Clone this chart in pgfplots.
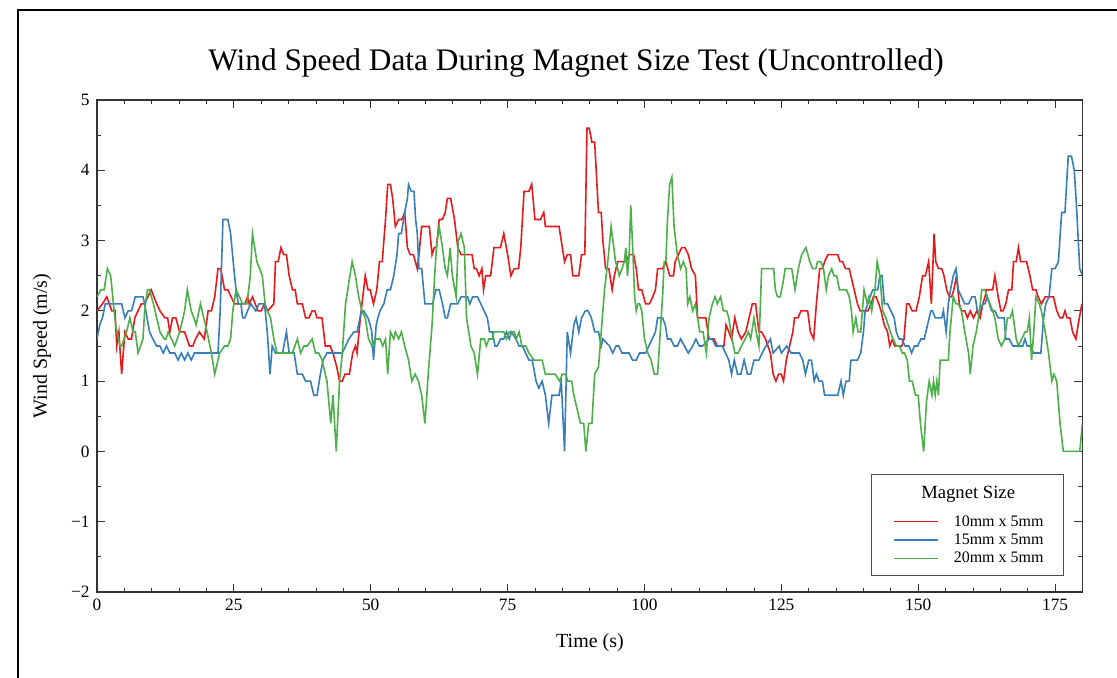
\documentclass[border=0pt]{standalone}
\usepackage{fontspec}
\setmainfont{Liberation Serif}
\usepackage{pgfplots}
\usepackage{pgfplotstable}
\pgfplotsset{compat=1.18}
\definecolor{cred}{HTML}{E41A1C}
\definecolor{cblue}{HTML}{377EB8}
\definecolor{cgreen}{HTML}{4DAF4A}
\definecolor{cframe}{HTML}{333333}

\pgfplotstableread{
t v
0 2.0
1.0 2.1
1.8 2.2
2.7 2.0
3.3 2.0
3.6 1.5
4.0 1.7
4.5 1.1
5.1 1.7
5.7 1.6
6.3 1.6
6.9 1.9
7.5 2.0
8.1 2.1
8.7 2.1
9.3 2.2
9.9 2.3
10.9 2.1
11.5 2.0
12.4 1.9
12.9 1.9
13.3 1.7
13.8 1.9
14.4 1.9
15.1 1.7
16.0 1.7
16.9 1.5
17.5 1.5
18.0 1.6
18.7 1.7
19.6 1.6
20.3 2.0
20.9 2.0
21.5 2.2
22.1 2.6
22.6 2.6
23.3 2.3
23.9 2.3
24.5 2.2
25.1 2.1
26.3 2.1
27.0 2.1
27.5 2.2
27.8 2.1
28.4 2.2
29.4 2.0
30.0 2.0
30.6 2.1
31.2 2.0
32.3 2.1
32.6 2.7
33.1 2.7
33.6 2.9
34.1 2.8
34.6 2.8
35.1 2.5
35.7 2.3
36.2 2.3
36.6 2.1
37.5 2.1
38.1 1.9
38.7 1.9
39.3 2.0
39.8 2.0
40.2 1.9
41.1 1.9
41.7 1.5
42.6 1.5
43.1 1.4
43.8 1.2
44.3 1.0
44.8 1.0
45.3 1.1
46.1 1.1
46.7 1.4
47.2 1.5
47.5 1.4
48.1 1.9
48.7 2.3
49.0 2.5
49.5 2.3
49.9 2.3
50.5 2.1
51.1 2.3
51.6 2.7
52.1 2.7
52.7 3.3
53.1 3.8
53.6 3.8
54.0 3.6
54.5 3.2
55.1 3.3
55.7 3.3
56.2 3.4
56.7 2.9
57.2 2.8
57.8 2.8
58.5 2.6
58.8 2.8
59.3 3.2
60.2 3.2
60.7 3.2
61.2 2.8
61.6 2.9
62.0 2.9
62.5 3.3
63.1 3.3
63.6 3.4
64.0 3.6
64.6 3.6
65.3 3.3
65.9 2.9
66.5 2.8
67.4 2.8
68.5 2.8
68.9 2.6
69.3 2.6
69.8 2.5
70.3 2.6
70.6 2.3
71.0 2.5
71.9 2.5
72.5 2.9
73.7 2.9
74.3 3.1
75.0 2.8
75.6 2.5
76.2 2.6
77.0 2.6
77.4 2.9
78.0 3.7
78.9 3.7
79.4 3.8
80.0 3.3
81.0 3.3
81.6 3.4
81.9 3.2
84.4 3.2
85.0 2.9
85.4 2.7
85.9 2.8
86.5 2.8
86.9 2.5
88.0 2.5
88.5 2.8
89.1 2.8
89.5 4.6
89.9 4.6
90.4 4.4
90.9 4.4
91.6 3.4
92.1 3.4
92.4 3.0
92.9 2.6
93.5 2.6
94.1 2.3
94.5 2.5
95.1 2.7
96.6 2.7
97.2 2.8
98.0 2.8
98.5 2.6
98.9 2.3
99.5 2.3
100.2 2.1
100.9 2.1
101.5 2.2
102.0 2.3
102.4 2.6
103.3 2.6
103.9 2.7
104.6 2.5
105.3 2.5
105.6 2.7
106.2 2.8
106.8 2.9
107.4 2.9
108.0 2.8
108.6 2.6
109.3 2.5
109.7 1.9
111.2 1.9
111.8 1.6
112.7 1.6
113.3 1.5
114.5 1.5
114.9 1.8
115.4 1.7
115.9 1.6
116.5 1.9
117.1 1.7
117.7 1.6
118.5 1.7
119.1 1.9
119.7 2.1
120.3 2.1
120.9 1.7
121.4 1.7
122.1 1.6
123.0 1.4
123.5 1.1
124.0 1.0
124.5 1.1
125.0 1.1
125.4 1.0
125.9 1.3
126.5 1.5
127.1 1.7
127.4 1.9
128.0 1.9
128.6 2.0
129.8 2.0
130.3 1.7
130.9 1.6
131.4 2.1
132.0 2.6
132.5 2.6
132.9 2.7
133.5 2.8
135.3 2.8
135.7 2.7
136.2 2.7
136.7 2.6
137.4 2.6
137.7 2.5
138.3 2.3
138.9 2.1
139.4 2.0
140.8 2.0
141.4 2.1
141.8 2.2
142.3 2.2
142.8 2.1
143.2 2.0
143.8 1.8
144.4 1.7
144.8 1.5
145.3 1.6
145.7 1.5
147.0 1.5
147.4 1.6
147.9 2.1
148.3 2.1
148.9 2.0
149.6 2.0
150.2 2.2
150.8 2.5
151.3 2.5
151.9 2.7
152.4 2.1
152.9 3.1
153.2 2.7
153.7 2.6
154.3 2.6
154.7 2.5
155.2 2.3
155.7 2.2
156.1 2.2
156.5 2.3
157.0 2.5
157.5 2.1
157.9 2.0
158.5 2.0
159.0 1.9
159.5 2.0
160.1 1.9
160.7 2.0
161.3 1.9
161.8 2.1
162.2 2.2
162.5 2.3
163.6 2.3
164.0 2.5
164.6 2.2
165.1 2.0
165.5 2.0
166.0 2.1
166.5 2.3
167.1 2.3
167.4 2.7
167.9 2.7
168.3 2.9
168.7 2.7
169.8 2.7
170.4 2.5
170.9 2.3
171.5 2.3
171.9 2.2
172.5 2.1
173.2 2.2
174.7 2.2
175.3 2.0
175.9 1.9
176.4 1.9
176.8 2.0
177.2 1.9
177.7 1.9
178.2 1.7
178.8 1.6
179.2 1.8
179.9 2.1
}\redtable

\pgfplotstableread{
t v
0 1.6
0.5 1.8
1.0 1.9
1.5 2.1
4.5 2.1
5.1 1.9
5.7 2.0
6.3 2.0
7.0 2.2
8.4 2.2
8.7 2.1
9.6 1.7
10.2 1.6
10.9 1.5
11.5 1.5
12.1 1.4
12.7 1.5
13.3 1.4
14.2 1.4
14.8 1.3
15.4 1.4
16.0 1.3
16.6 1.4
17.2 1.3
17.8 1.4
22.1 1.4
22.5 2.0
23.0 3.3
23.9 3.3
24.4 3.1
25.0 2.6
25.4 2.3
25.8 2.1
26.3 2.1
26.6 1.9
27.0 1.9
27.5 2.0
28.1 2.1
29.0 2.0
29.6 2.1
30.6 2.1
31.1 1.7
31.6 1.1
32.0 1.5
32.6 1.4
33.9 1.4
34.6 1.7
35.1 1.4
36.0 1.4
36.6 1.1
37.5 1.1
38.1 1.0
39.0 1.0
39.6 0.8
40.2 0.8
40.8 1.1
41.3 1.3
42.0 1.4
44.8 1.4
45.4 1.5
46.0 1.6
46.9 1.7
47.5 1.7
48.3 2.0
48.7 2.0
49.5 1.9
49.9 1.8
50.2 1.7
50.5 1.3
51.0 1.8
51.3 1.9
51.7 2.0
52.4 2.1
53.0 2.3
53.6 2.3
54.2 2.5
54.8 2.8
55.1 3.1
55.6 3.1
56.2 3.4
56.7 3.6
56.9 3.8
57.4 3.7
57.9 3.7
58.2 3.3
58.5 3.1
58.8 2.6
59.3 2.6
59.9 2.1
61.3 2.1
61.9 2.3
62.5 2.3
63.1 2.1
63.6 1.9
64.0 1.9
64.6 2.1
65.9 2.1
66.5 2.2
67.7 2.2
68.1 2.1
68.6 2.2
69.5 2.2
70.1 2.1
70.7 2.0
71.3 1.9
71.7 1.7
72.2 1.7
72.7 1.5
73.1 1.5
73.7 1.6
74.3 1.6
74.8 1.7
75.3 1.6
75.7 1.7
76.5 1.6
77.1 1.5
77.7 1.5
78.3 1.4
78.9 1.3
79.5 1.3
80.2 1.0
80.7 0.9
81.3 1.0
81.9 0.8
82.5 0.4
83.1 0.8
84.4 0.8
84.8 1.0
85.4 0.0
85.9 1.7
86.5 1.4
87.1 1.8
87.5 1.9
88.0 1.7
88.5 1.9
89.2 2.0
89.7 2.0
90.3 1.9
90.9 1.7
91.6 1.7
92.1 1.5
92.4 1.6
93.6 1.5
94.2 1.4
94.8 1.5
95.3 1.5
95.9 1.4
97.2 1.4
97.8 1.3
98.5 1.3
99.1 1.4
100.2 1.4
100.8 1.5
101.4 1.6
102.0 1.7
102.4 1.9
103.3 1.9
103.8 1.8
104.2 1.6
104.8 1.6
105.4 1.5
106.0 1.5
106.6 1.6
107.3 1.5
108.0 1.4
108.8 1.5
109.4 1.6
110.0 1.5
110.6 1.5
111.8 1.6
112.4 1.6
113.0 1.5
114.2 1.5
114.8 1.4
115.4 1.3
115.9 1.1
116.4 1.3
117.0 1.1
117.6 1.1
118.2 1.3
118.8 1.1
119.4 1.1
120.0 1.3
120.9 1.3
121.5 1.4
122.2 1.5
123.0 1.6
123.5 1.4
124.6 1.5
125.0 1.4
126.0 1.5
126.8 1.4
128.3 1.4
128.9 1.3
129.4 1.1
130.0 1.3
130.5 1.3
131.0 1.0
131.4 1.1
131.9 1.0
132.5 1.0
132.9 0.8
135.3 0.8
135.9 1.0
136.3 0.8
136.8 1.0
137.4 1.0
137.7 1.3
138.9 1.3
139.5 1.4
140.0 1.7
140.3 2.0
140.8 2.1
141.2 2.2
141.7 2.3
142.6 2.3
143.0 2.5
143.4 2.5
143.8 2.1
144.4 2.1
145.0 2.0
145.6 1.9
146.0 1.7
146.5 1.6
147.0 1.6
147.6 1.5
148.3 1.5
148.8 1.4
149.3 1.5
149.9 1.5
150.5 1.6
151.1 1.6
151.7 1.8
152.3 2.0
152.6 2.0
153.1 1.9
154.3 1.9
154.6 2.0
155.1 1.7
155.5 2.1
155.9 2.3
156.4 2.5
156.9 2.6
157.3 2.3
157.9 2.2
158.5 2.1
159.2 2.1
159.8 2.2
160.4 2.2
160.8 2.0
161.3 2.0
161.8 2.1
162.2 2.1
162.6 2.2
163.0 2.1
163.4 2.0
164.0 2.0
164.6 1.9
165.7 1.9
166.0 1.6
166.6 1.6
167.3 1.5
169.1 1.5
169.5 1.6
169.9 1.5
170.4 1.5
171.1 1.4
172.4 1.4
172.9 1.9
173.3 2.1
173.9 2.2
174.4 2.6
175.0 2.6
175.6 2.7
176.2 3.4
176.8 3.4
177.4 4.2
178.0 4.2
178.5 4.0
178.9 3.5
179.5 2.6
180.0 2.5
}\bluetable

\pgfplotstableread{
t v
0 2.2
0.7 2.3
1.3 2.3
1.9 2.6
2.5 2.5
3.0 2.1
3.4 1.8
4.2 1.5
4.5 1.5
5.4 1.7
6.0 1.9
6.6 1.7
7.0 1.7
7.5 1.4
8.4 1.6
8.7 2.0
9.2 2.3
9.6 2.3
10.3 2.1
10.9 1.9
11.5 1.7
12.3 1.6
12.6 1.6
13.0 1.7
13.6 1.6
14.2 1.5
15.1 1.7
16.0 2.0
16.5 2.3
17.2 2.0
17.7 1.9
18.1 1.8
18.9 2.1
19.5 1.9
20.1 1.7
20.9 1.4
21.5 1.1
22.4 1.4
23.3 1.5
23.9 1.5
24.4 1.6
24.8 2.0
25.4 2.3
26.0 2.2
26.6 2.1
27.4 2.1
28.0 2.5
28.4 3.1
29.2 2.7
29.7 2.6
30.2 2.5
30.7 2.1
31.1 2.0
31.7 1.9
32.3 1.6
32.9 1.4
35.7 1.4
36.6 1.6
37.2 1.4
37.8 1.5
38.4 1.5
39.3 1.6
39.9 1.4
40.5 1.4
41.1 1.3
42.0 1.0
42.7 0.4
43.1 0.8
43.7 0.0
44.3 1.0
44.8 1.4
45.4 2.1
46.0 2.4
46.6 2.7
47.2 2.5
47.8 2.2
48.4 2.0
49.0 1.9
49.6 1.6
50.2 1.5
50.8 1.6
51.7 1.6
52.2 1.5
52.7 1.6
53.1 1.1
53.6 1.7
54.2 1.6
54.5 1.7
55.1 1.6
55.6 1.7
56.2 1.5
56.9 1.3
57.5 1.0
58.1 1.1
58.7 1.0
59.3 0.8
59.9 0.4
60.5 1.1
61.2 1.8
61.6 2.4
62.0 2.9
62.5 3.2
63.1 2.9
63.6 2.6
64.0 2.5
64.5 2.9
64.9 2.5
65.6 2.2
66.0 3.0
66.5 3.1
67.1 2.9
67.5 1.9
67.9 1.7
68.3 1.5
68.9 1.4
69.5 1.1
70.1 1.6
70.7 1.6
71.1 1.5
71.6 1.6
72.2 1.6
72.5 1.7
73.4 1.7
74.3 1.7
74.8 1.6
75.3 1.7
76.2 1.7
76.6 1.6
77.1 1.7
77.6 1.5
78.3 1.5
78.9 1.4
79.8 1.3
81.3 1.3
81.9 1.1
83.7 1.1
84.5 1.0
85.0 1.1
85.6 1.1
86.0 1.0
86.7 1.0
87.1 0.8
88.3 0.4
88.9 0.4
89.3 0.0
89.8 0.4
90.4 0.4
90.9 1.1
91.6 1.2
92.1 1.7
92.7 2.3
93.3 2.7
93.9 3.2
94.4 2.9
94.7 2.7
95.1 2.6
95.4 2.5
95.9 2.6
96.3 2.7
96.6 2.9
96.9 2.5
97.2 2.8
97.5 3.5
97.9 2.8
98.2 2.2
98.5 2.0
98.8 2.1
99.1 2.1
99.5 2.0
100.0 1.6
100.6 1.4
101.2 1.3
101.8 1.1
102.4 1.1
102.8 1.6
103.3 2.2
103.6 2.7
103.9 2.7
104.2 3.3
104.6 3.8
105.0 3.9
105.4 3.2
106.0 2.8
106.6 2.6
107.1 2.7
107.6 2.6
107.9 2.1
108.3 2.2
108.8 2.0
109.3 2.1
109.7 1.9
110.1 1.7
110.7 1.7
111.3 1.4
111.8 1.9
112.4 2.1
112.9 2.2
113.3 2.1
113.9 2.2
114.4 2.0
115.0 2.0
115.4 1.9
116.0 1.6
116.5 1.4
117.1 1.4
117.7 1.5
118.4 1.6
119.0 1.7
119.4 1.6
120.0 1.9
120.4 1.7
120.9 1.5
121.4 2.6
123.6 2.6
123.9 2.3
124.3 2.2
124.8 2.2
125.3 2.4
125.7 2.6
126.9 2.6
127.5 2.3
128.1 2.6
128.7 2.8
129.5 2.9
130.2 2.7
130.7 2.6
131.3 2.6
131.6 2.7
132.2 2.7
132.7 2.6
133.2 2.3
133.6 2.5
134.2 2.6
134.6 2.5
135.1 2.5
135.6 2.3
136.9 2.3
137.4 2.2
137.8 2.0
138.1 1.7
138.6 1.9
139.0 1.7
139.5 1.7
140.1 2.3
140.7 2.1
141.0 2.2
141.5 2.0
142.1 2.3
142.5 2.7
143.0 2.5
143.5 2.0
144.1 1.9
144.5 1.8
144.9 1.7
145.4 1.6
146.0 1.5
146.6 1.5
147.1 1.4
147.5 1.4
148.0 1.3
148.4 1.0
148.9 1.0
149.5 0.8
150.0 0.8
150.4 0.4
151.0 0.0
151.5 0.7
152.0 1.0
152.5 0.8
152.8 1.0
153.1 0.8
153.4 1.0
153.7 0.8
154.0 1.3
155.5 1.3
155.8 1.7
156.4 2.2
156.9 2.1
157.3 2.1
157.9 2.0
158.5 1.7
159.2 1.4
159.5 1.1
160.0 1.5
160.6 1.7
161.2 2.0
161.6 2.3
162.2 2.3
162.6 2.2
163.1 2.1
163.6 2.0
164.0 1.9
164.6 1.6
165.2 1.5
165.8 1.6
166.3 1.9
166.8 1.9
167.2 2.0
167.9 1.6
168.3 1.5
168.9 1.6
169.5 1.7
169.9 1.7
170.3 1.9
170.7 1.3
171.1 1.7
171.5 2.2
172.1 2.1
172.5 2.0
173.2 1.7
173.8 1.4
174.4 1.0
174.8 1.1
175.3 1.0
175.9 0.4
176.5 0.0
179.5 0.0
180.0 0.4
}\greentable

\begin{document}
\begin{tikzpicture}
\useasboundingbox (0,0) rectangle (837.75pt,508.5pt);
\draw[line width=1.5pt] (13.5pt,0) -- (13.5pt,501pt) -- (837.75pt,501pt);
\begin{axis}[
  at={(72.75pt,64.5pt)}, anchor=south west,
  scale only axis, width=739.1pt, height=369pt,
  xmin=0, xmax=180, ymin=-2, ymax=5,
  xtick={0,25,...,175}, minor x tick num=4,
  ytick={-2,-1,0,1,2,3,4,5}, yticklabels={−2,−1,0,1,2,3,4,5},
  minor y tick num=1,
  tick align=inside, major tick length=6pt, minor tick length=3pt,
  tick label style={font=\fontsize{13}{15}\selectfont},
  /pgf/number format/assume math mode=true,
  xticklabel style={yshift=-2pt},
  yticklabel style={xshift=-2pt},
  axis line style={line width=0.9pt, cframe},
  every tick/.style={cframe, line width=0.7pt},
  legend style={draw=none, fill=none, at={(rel axis cs:0.808,0.159)}, anchor=north west,
    inner sep=0pt, font=\fontsize{12}{13.7}\selectfont, cells={anchor=west},
    nodes={inner sep=1pt}, row sep=2.4pt},
  legend image code/.code={\draw[#1] (0pt,0pt) -- (33pt,0pt);},
  clip=true,
]
\addplot[cred, line width=1.2pt] table[x=t,y=v]{\redtable};
\addlegendentry{\hspace{10pt}10mm x 5mm}
\addplot[cblue, line width=1.2pt] table[x=t,y=v]{\bluetable};
\addlegendentry{\hspace{10pt}15mm x 5mm}
\addplot[cgreen, line width=1.2pt] table[x=t,y=v]{\greentable};
\addlegendentry{\hspace{10pt}20mm x 5mm}
\draw[fill=white, draw=black!70, line width=0.6pt] (rel axis cs:0.786,0.0346) rectangle (rel axis cs:0.981,0.240);
\node[font=\fontsize{14}{16}\selectfont] at (rel axis cs:0.884,0.199) {Magnet Size};
\end{axis}
\node[font=\fontsize{23.5}{27}\selectfont] at (432pt,461pt) {Wind Speed Data During Magnet Size Test (Uncontrolled)};
\node[font=\fontsize{15}{18}\selectfont] at (442.5pt,26.25pt) {Time (s)};
\node[font=\fontsize{15}{18}\selectfont, rotate=90] at (31.5pt,249pt) {Wind Speed (m/s)};
\end{tikzpicture}
\end{document}
